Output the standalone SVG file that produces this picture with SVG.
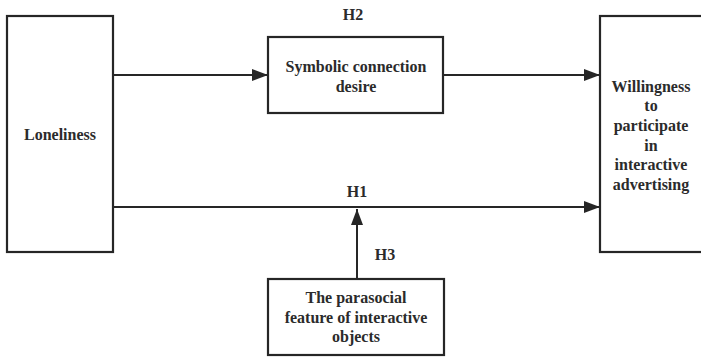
<svg xmlns="http://www.w3.org/2000/svg" width="701" height="357" viewBox="0 0 701 357">
<style>
.box{fill:#fff;stroke:#262626;stroke-width:2.2}
.t{font-family:"Liberation Serif","Times New Roman",serif;font-weight:bold;font-size:16px;fill:#2b2b2b;text-anchor:middle}
.c{stroke:#262626;stroke-width:2;fill:none}
</style>
<defs>
<marker id="ah" viewBox="0 0 16 12" refX="16" refY="6" markerWidth="16" markerHeight="12" markerUnits="userSpaceOnUse" orient="auto">
<path d="M0,0 L16,6 L0,12 Z" fill="#262626"/>
</marker>
</defs>
<rect width="701" height="357" fill="#fff"/>
<g id="connectors">
<line class="c" x1="113" y1="75" x2="268" y2="75" marker-end="url(#ah)"/>
<line class="c" x1="443" y1="75" x2="600" y2="75" marker-end="url(#ah)"/>
<line class="c" x1="113" y1="207" x2="600" y2="207" marker-end="url(#ah)"/>
<line class="c" x1="357" y1="279" x2="357" y2="209" marker-end="url(#ah)"/>
<text class="t" x="353" y="20">H2</text>
<text class="t" x="357" y="197">H1</text>
<text class="t" x="385" y="260">H3</text>
</g>
<g id="loneliness">
<rect class="box" x="7" y="16" width="106" height="236"/>
<text class="t" x="60" y="140">Loneliness</text>
</g>
<g id="symbolic">
<rect class="box" x="268" y="37" width="175" height="76"/>
<text class="t" x="356" y="72">Symbolic connection</text>
<text class="t" x="356" y="92">desire</text>
</g>
<g id="willingness">
<rect class="box" x="600" y="16" width="130" height="236"/>
<text class="t" x="651" y="92">Willingness</text>
<text class="t" x="651" y="111">to</text>
<text class="t" x="651" y="131">participate</text>
<text class="t" x="651" y="151">in</text>
<text class="t" x="651" y="170">interactive</text>
<text class="t" x="651" y="190">advertising</text>
</g>
<g id="parasocial">
<rect class="box" x="268" y="279" width="176" height="76"/>
<text class="t" x="356" y="303">The parasocial</text>
<text class="t" x="356" y="323">feature of interactive</text>
<text class="t" x="356" y="342">objects</text>
</g>
</svg>
